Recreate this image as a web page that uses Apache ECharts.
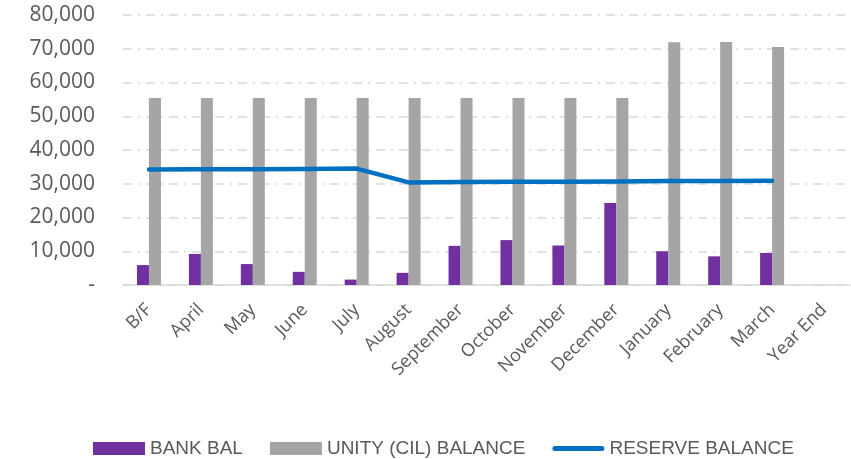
<!DOCTYPE html>
<html>
<head>
<meta charset="utf-8">
<script src="https://cdn.jsdelivr.net/npm/echarts@6/dist/echarts.min.js"></script>
<style>
  html, body { margin: 0; padding: 0; background: #fff; }
  #main { width: 851px; height: 459px; }
</style>
</head>
<body>
<div id="main"></div>
<script>
// chart data
const categories = ['B/F', 'April', 'May', 'June', 'July', 'August', 'September', 'October',
  'November', 'December', 'January', 'February', 'March', 'Year End'];
const bankBal = [5900, 9200, 6200, 3900, 1600, 3600, 11600, 13300, 11700, 24300, 10000, 8500, 9500, null];
const unityBal = [55400, 55400, 55400, 55400, 55400, 55400, 55400, 55400, 55400, 55400, 71900, 72000, 70500, null];
const reserveBal = [34200, 34300, 34300, 34400, 34500, 30400, 30500, 30600, 30600, 30700, 30800, 30800, 30900, null];
const yTicks = [0, 10000, 20000, 30000, 40000, 50000, 60000, 70000, 80000];

const chart = echarts.init(document.getElementById('main'));

const gridLine = { color: '#d9d9d9', width: 1.5, type: [9, 6, 2, 6] };
// thin rounded bar for the line legend entry (moves keep the box at 52x13)
const lineIcon = 'path://M0,0 M52,13 M2.5,4 H49.5 A2.5,2.5 0 0 1 49.5,9 H2.5 A2.5,2.5 0 0 1 2.5,4 Z';

const option = {
  animation: false,
  textStyle: { fontFamily: 'Open Sans' },
  grid: { left: 123, right: 1, top: 15, bottom: 174, containLabel: false },
  legend: {
    top: 434,
    left: 88,
    itemWidth: 52,
    itemHeight: 13,
    itemGap: 27,
    textStyle: { color: '#595959', fontSize: 19, fontFamily: 'Liberation Sans' },
    data: [
      { name: 'BANK BAL', icon: 'rect' },
      { name: 'UNITY (CIL) BALANCE', icon: 'rect' },
      { name: 'RESERVE BALANCE', icon: lineIcon }
    ]
  },
  xAxis: {
    type: 'category',
    data: categories,
    axisLine: { lineStyle: { color: '#d9d9d9', width: 1.5 } },
    axisTick: { show: false },
    axisLabel: { rotate: 45, margin: 22, color: '#595959', fontSize: 18, interval: 0 }
  },
  yAxis: {
    type: 'value',
    min: yTicks[0],
    max: yTicks[yTicks.length - 1],
    interval: 10000,
    axisLine: { show: false },
    axisTick: { show: false },
    splitLine: { lineStyle: gridLine },
    axisLabel: {
      margin: 28,
      color: '#595959',
      fontSize: 21,
      formatter: v => v === 0 ? '-' : v.toLocaleString('en-US')
    }
  },
  series: [
    {
      name: 'BANK BAL',
      type: 'bar',
      data: bankBal,
      barWidth: 12,
      barGap: '0%',
      itemStyle: { color: '#7030a0' }
    },
    {
      name: 'UNITY (CIL) BALANCE',
      type: 'bar',
      data: unityBal,
      barWidth: 12,
      barGap: '0%',
      itemStyle: { color: '#a5a5a5' }
    },
    {
      name: 'RESERVE BALANCE',
      type: 'line',
      data: reserveBal,
      symbol: 'none',
      lineStyle: { color: '#0070c0', width: 4.5, cap: 'round' },
      itemStyle: { color: '#0070c0' }
    }
  ]
};

chart.setOption(option);
</script>
</body>
</html>
